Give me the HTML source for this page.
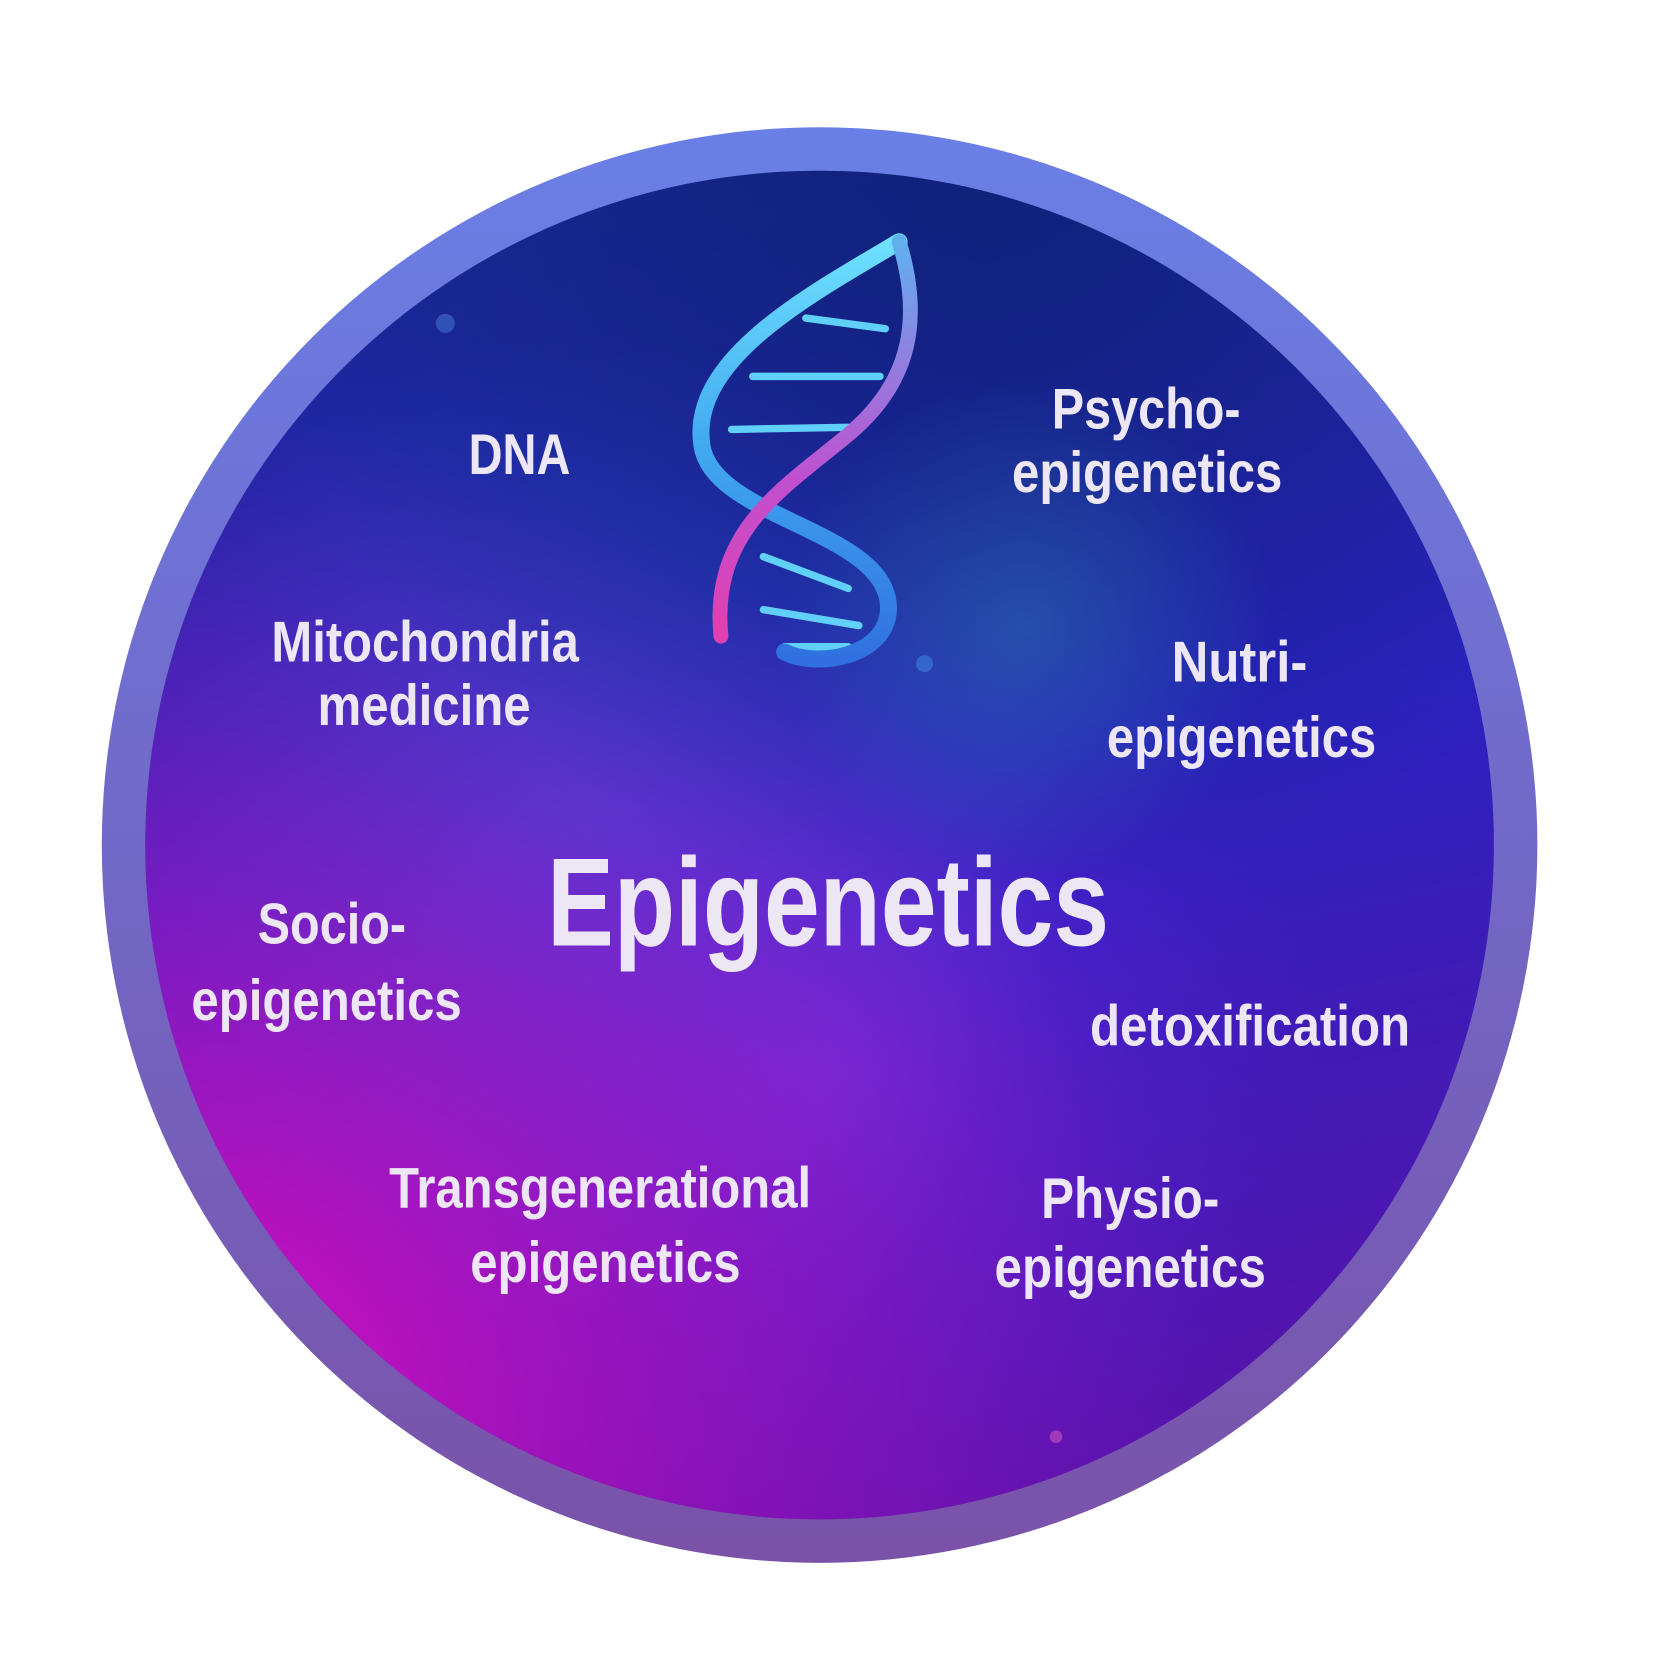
<!DOCTYPE html>
<html><head><meta charset="utf-8"><style>
html,body{margin:0;padding:0;background:#fff;}
svg{display:block}
text{font-family:"Liberation Sans",sans-serif;font-weight:bold;fill:#ece6f5;text-anchor:middle}
</style></head><body>
<svg width="1654" height="1654" viewBox="0 0 1560 1560" xmlns="http://www.w3.org/2000/svg">
<defs>
<linearGradient id="ring" x1="0" y1="0" x2="0" y2="1">
<stop offset="0" stop-color="#6a7fe6"/><stop offset="1" stop-color="#7a52a8"/>
</linearGradient>
<linearGradient id="base" x1="0.3" y1="0" x2="0.5" y2="1">
<stop offset="0" stop-color="#142a8a"/><stop offset="0.5" stop-color="#2a22c0"/><stop offset="1" stop-color="#6010a8"/>
</linearGradient>
<radialGradient id="mag" cx="0.12" cy="0.85" r="0.6">
<stop offset="0" stop-color="#e010c0" stop-opacity="0.95"/><stop offset="0.6" stop-color="#c010c0" stop-opacity="0.4"/><stop offset="1" stop-color="#a010c0" stop-opacity="0"/>
</radialGradient>
<radialGradient id="pur" cx="0.5" cy="0.65" r="0.3">
<stop offset="0" stop-color="#8a30f0" stop-opacity="0.55"/><stop offset="1" stop-color="#6020e0" stop-opacity="0"/>
</radialGradient>
<radialGradient id="blu" cx="0.35" cy="0.5" r="0.3">
<stop offset="0" stop-color="#3a6ae0" stop-opacity="0.5"/><stop offset="1" stop-color="#3a6ae0" stop-opacity="0"/>
</radialGradient>
<radialGradient id="top" cx="0.6" cy="0.1" r="0.45">
<stop offset="0" stop-color="#0c2070" stop-opacity="0.8"/><stop offset="1" stop-color="#0c2070" stop-opacity="0"/>
</radialGradient>
<radialGradient id="teal" cx="0.62" cy="0.38" r="0.15">
<stop offset="0" stop-color="#30a0c0" stop-opacity="0.35"/><stop offset="1" stop-color="#30a0c0" stop-opacity="0"/>
</radialGradient>
<linearGradient id="helix" x1="0" y1="0" x2="0" y2="1">
<stop offset="0" stop-color="#6ee0ff"/><stop offset="0.5" stop-color="#40a8f0"/><stop offset="1" stop-color="#3070e0"/>
</linearGradient>
<linearGradient id="helix2" x1="0" y1="0" x2="0" y2="1">
<stop offset="0" stop-color="#60b0f0"/><stop offset="0.6" stop-color="#c050d0"/><stop offset="1" stop-color="#e040b0"/>
</linearGradient>
<clipPath id="cc"><circle cx="773" cy="797" r="636"/></clipPath>
</defs>
<circle cx="773" cy="797" r="677" fill="url(#ring)"/>
<g clip-path="url(#cc)">
<rect x="0" y="0" width="1560" height="1560" fill="url(#base)"/>
<rect x="0" y="0" width="1560" height="1560" fill="url(#blu)"/>
<rect x="0" y="0" width="1560" height="1560" fill="url(#pur)"/>
<rect x="0" y="0" width="1560" height="1560" fill="url(#mag)"/>
<rect x="0" y="0" width="1560" height="1560" fill="url(#top)"/>
<rect x="0" y="0" width="1560" height="1560" fill="url(#teal)"/>
<circle cx="420" cy="305" r="9" fill="#4070d0" opacity="0.6"/>
<circle cx="872" cy="626" r="8" fill="#4080e0" opacity="0.6"/>
<circle cx="996" cy="1355" r="6" fill="#e060c0" opacity="0.5"/>
</g>
<g fill="none" stroke-linecap="round">
<g stroke="#60d0f8" stroke-width="7">
<line x1="760" y1="300" x2="835" y2="310"/>
<line x1="710" y1="355" x2="830" y2="355"/>
<line x1="690" y1="405" x2="800" y2="403"/>
<line x1="720" y1="525" x2="800" y2="555"/>
<line x1="720" y1="575" x2="810" y2="590"/>
<line x1="740" y1="610" x2="800" y2="610"/>
</g>
<path d="M848 228 C760 280 650 340 662 420 C672 490 840 500 838 575 C836 620 770 630 740 615" stroke="url(#helix)" stroke-width="16"/>
<path d="M848 228 C870 300 860 360 800 410 C740 460 670 500 680 600" stroke="url(#helix2)" stroke-width="14"/>
</g>
<text x="490" y="447" font-size="54" textLength="96" lengthAdjust="spacingAndGlyphs">DNA</text>
<text x="1081" y="404" font-size="54" textLength="178" lengthAdjust="spacingAndGlyphs">Psycho-</text>
<text x="1082" y="464" font-size="54" textLength="255" lengthAdjust="spacingAndGlyphs">epigenetics</text>
<text x="401" y="624" font-size="54" textLength="290" lengthAdjust="spacingAndGlyphs">Mitochondria</text>
<text x="400" y="684" font-size="54" textLength="201" lengthAdjust="spacingAndGlyphs">medicine</text>
<text x="1169" y="643" font-size="54" textLength="128" lengthAdjust="spacingAndGlyphs">Nutri-</text>
<text x="1171" y="714" font-size="54" textLength="254" lengthAdjust="spacingAndGlyphs">epigenetics</text>
<text x="781" y="892" font-size="118" textLength="530" lengthAdjust="spacingAndGlyphs">Epigenetics</text>
<text x="313" y="890" font-size="54" textLength="140" lengthAdjust="spacingAndGlyphs">Socio-</text>
<text x="308" y="962" font-size="54" textLength="255" lengthAdjust="spacingAndGlyphs">epigenetics</text>
<text x="1179" y="986" font-size="54" textLength="302" lengthAdjust="spacingAndGlyphs">detoxification</text>
<text x="566" y="1139" font-size="54" textLength="398" lengthAdjust="spacingAndGlyphs">Transgenerational</text>
<text x="571" y="1209" font-size="54" textLength="255" lengthAdjust="spacingAndGlyphs">epigenetics</text>
<text x="1066" y="1149" font-size="54" textLength="168" lengthAdjust="spacingAndGlyphs">Physio-</text>
<text x="1066" y="1214" font-size="54" textLength="256" lengthAdjust="spacingAndGlyphs">epigenetics</text>
</svg>
</body></html>
